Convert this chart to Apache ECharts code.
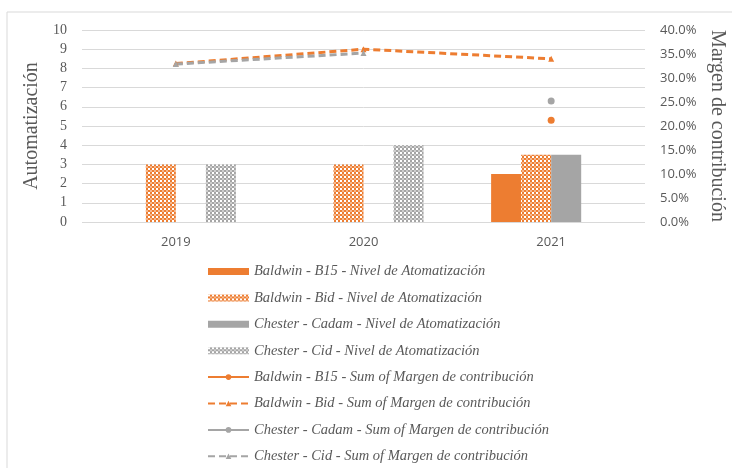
<!DOCTYPE html>
<html>
<head>
<meta charset="utf-8">
<script src="https://cdn.jsdelivr.net/npm/echarts@6/dist/echarts.min.js"></script>
<style>
  html, body { margin: 0; padding: 0; background: #fff; }
  #chart { width: 732px; height: 468px; }
</style>
</head>
<body>
<div id="chart"></div>
<script>
// años
const years = ["2019", "2020", "2021"];
// Nivel de automatización (eje izquierdo)
const b15Auto = [null, null, 2.5];
const bidAuto = [3, 3, 3.5];
const cadamAuto = [null, null, 3.5];
const cidAuto = [3, 4, null];
// margen de contribución en % (eje derecho)
const b15Margin = [null, null, 21.2];
const bidMargin = [33.0, 36.0, 34.0];
const cadamMargin = [null, null, 25.2];
const cidMargin = [32.9, 35.2, null];

const ORANGE = "#ED7D31";
const GRAY = "#A5A5A5";
const TEXT = "#595959";

// patrón de puntos para las barras "Bid" y "Cid"
function dotPattern(base) {
  const c = document.createElement("canvas");
  c.width = 4;
  c.height = 4;
  const ctx = c.getContext("2d");
  ctx.fillStyle = base;
  ctx.fillRect(0, 0, 4, 4);
  ctx.fillStyle = "#ffffff";
  ctx.fillRect(0, 0, 2, 2);
  ctx.fillStyle = "rgba(255,255,255,0.45)";
  ctx.fillRect(2, 2, 2, 2);
  return { image: c, repeat: "repeat" };
}

const chart = echarts.init(document.getElementById("chart"));

const barSeries = (name, data, color) => ({
  name: name,
  type: "bar",
  yAxisIndex: 0,
  data: data,
  barGap: "0%",
  barCategoryGap: "36%",
  itemStyle: { color: color },
});

const lineSeries = (name, data, color, symbol, dashed) => ({
  name: name,
  type: "line",
  yAxisIndex: 1,
  data: data,
  symbol: symbol,
  symbolSize: symbol === "circle" ? 7 : 6,
  showSymbol: true,
  smooth: false,
  itemStyle: { color: color },
  lineStyle: { color: color, width: 3, type: dashed ? [7, 4] : "solid" },
});

const names = [
  "Baldwin - B15 - Nivel de Atomatización",
  "Baldwin - Bid - Nivel de Atomatización",
  "Chester - Cadam - Nivel de Atomatización",
  "Chester - Cid - Nivel de Atomatización",
  "Baldwin - B15 - Sum of Margen de contribución",
  "Baldwin - Bid - Sum of Margen de contribución",
  "Chester - Cadam - Sum of Margen de contribución",
  "Chester - Cid - Sum of Margen de contribución",
];

chart.setOption({
  animation: false,
  backgroundColor: "#ffffff",
  graphic: [
    {
      type: "rect",
      shape: { x: 7, y: 12, width: 740, height: 470 },
      style: { fill: "none", stroke: "#D9D9D9", lineWidth: 1 },
      silent: true,
    },
  ],
  grid: { left: 82, right: 87, top: 30, bottom: 246, outerBoundsMode: "none" },
  legend: {
    orient: "vertical",
    left: 207,
    top: 264,
    padding: 0,
    itemWidth: 41,
    itemHeight: 7,
    itemGap: 11.4,
    textStyle: {
      fontFamily: "Liberation Serif",
      fontStyle: "italic",
      fontSize: 14.5,
      color: TEXT,
    },
    data: names.map((n, i) => (i < 4 ? { name: n, icon: "rect" } : { name: n })),
  },
  xAxis: {
    type: "category",
    data: years,
    axisLine: { show: false },
    axisTick: { show: false },
    axisLabel: {
      color: TEXT,
      fontFamily: "Open Sans",
      fontSize: 13,
      margin: 14,
    },
  },
  yAxis: [
    {
      type: "value",
      min: 0,
      max: 10,
      interval: 1,
      name: "Automatización",
      nameLocation: "middle",
      nameGap: 34,
      nameTextStyle: { fontFamily: "Liberation Serif", fontSize: 20, color: TEXT },
      axisLabel: { color: TEXT, fontFamily: "Liberation Serif", fontSize: 14, margin: 15 },
      splitLine: { lineStyle: { color: "#D9D9D9" } },
    },
    {
      type: "value",
      min: 0,
      max: 40,
      interval: 5,
      name: "Margen de contribución",
      nameLocation: "middle",
      nameRotate: -90,
      nameGap: 60,
      nameTextStyle: { fontFamily: "Liberation Serif", fontSize: 20, color: TEXT },
      axisLabel: {
        color: TEXT,
        fontFamily: "Open Sans",
        fontSize: 13,
        margin: 15,
        formatter: (v) => v.toFixed(1) + "%",
      },
      splitLine: { show: false },
    },
  ],
  series: [
    barSeries(names[0], b15Auto, ORANGE),
    barSeries(names[1], bidAuto, dotPattern(ORANGE)),
    barSeries(names[2], cadamAuto, GRAY),
    barSeries(names[3], cidAuto, dotPattern(GRAY)),
    lineSeries(names[4], b15Margin, ORANGE, "circle", false),
    lineSeries(names[5], bidMargin, ORANGE, "triangle", true),
    lineSeries(names[6], cadamMargin, GRAY, "circle", false),
    lineSeries(names[7], cidMargin, GRAY, "triangle", true),
  ],
});
</script>
</body>
</html>
